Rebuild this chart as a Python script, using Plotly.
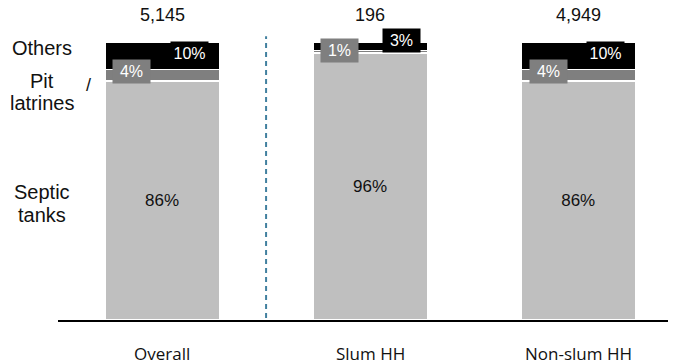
import plotly.graph_objects as go

# Sanitation type share (%) by household group
categories = ["Overall", "Slum HH", "Non-slum HH"]
septic_tanks = [86, 96, 86]
pit_latrines = [4, 1, 4]
others = [10, 3, 10]
totals = ["5,145", "196", "4,949"]

ARIAL = "Liberation Sans, Arial, sans-serif"
x_pos = list(range(len(categories)))
X_RANGE = [-0.5, 2.47]

fig = go.Figure()

fig.add_trace(go.Bar(
    x=x_pos, y=septic_tanks, name="Septic tanks", width=0.55,
    marker=dict(color="#BFBFBF", line=dict(color="white", width=1.5)),
    text=[f"{v}%" for v in septic_tanks], textposition="inside",
    insidetextanchor="middle",
    textfont=dict(family=ARIAL, size=17, color="#111111"),
))
fig.add_trace(go.Bar(
    x=x_pos, y=pit_latrines, name="Pit latrines", width=0.55,
    marker=dict(color="#7F7F7F", line=dict(color="white", width=1.5)),
))
fig.add_trace(go.Bar(
    x=x_pos, y=others, name="Others", width=0.55,
    marker=dict(color="#000000", line=dict(color="white", width=1.5)),
))

# Value labels for the thin segments
for i in x_pos:
    base = septic_tanks[i]
    top = base + pit_latrines[i] + others[i]
    if others[i] < 5:
        # small segments: labels lifted above the bar
        pit_y, oth_y, oth_dx = top - 3.2, top + 0.4, 0.15
    else:
        pit_y = base + pit_latrines[i] / 2 + 1.5
        oth_y = base + pit_latrines[i] + others[i] / 2 + 1
        oth_dx = 0.13
    fig.add_annotation(
        x=i - 0.145, y=pit_y, text=f"{pit_latrines[i]}%", showarrow=False,
        bgcolor="#7F7F7F", width=35, height=21, borderpad=1,
        font=dict(family=ARIAL, size=16, color="white"),
    )
    fig.add_annotation(
        x=i + oth_dx, y=oth_y, text=f"{others[i]}%", showarrow=False,
        bgcolor="#000000", width=35, height=21, borderpad=1,
        font=dict(family=ARIAL, size=16, color="white"),
    )
    fig.add_annotation(
        x=i, y=109.7, text=totals[i], showarrow=False,
        font=dict(family=ARIAL, size=18, color="#111111"),
    )
    # category name under the axis
    fig.add_annotation(
        x=i, yref="paper", y=-0.107, yanchor="middle", text=categories[i],
        showarrow=False,
        font=dict(family="Open Sans", size=17, color="#111111"),
    )

# Segment names on the left, one line per annotation for tight spacing
label_x = (-0.575 - X_RANGE[0]) / (X_RANGE[1] - X_RANGE[0])
left_labels = [("Others", 97.8), ("Pit", 86.0), ("latrines", 78.0),
               ("Septic", 46.2), ("tanks", 37.7)]
for label, y in left_labels:
    fig.add_annotation(
        xref="paper", x=label_x, xanchor="center", y=y, yanchor="middle",
        text=label, showarrow=False,
        font=dict(family=ARIAL, size=20, color="#111111"),
    )
fig.add_annotation(x=-0.355, y=84.5, text="/", showarrow=False,
                   font=dict(family=ARIAL, size=18, color="#111111"))

# Separator between overall and split groups
fig.add_shape(
    type="line", xref="x", yref="y", x0=0.5, x1=0.5, y0=-2.5, y1=102,
    line=dict(color="#41809F", width=2, dash="5px,4px"),
)

# page body adds an 8px margin, so the figure is sized 8px smaller
fig.update_layout(
    width=668, height=356,
    barmode="stack",
    showlegend=False,
    plot_bgcolor="white",
    paper_bgcolor="white",
    margin=dict(l=50, r=0, t=0, b=44),
    xaxis=dict(
        range=X_RANGE, tickvals=x_pos, showticklabels=False,
        showline=True, linecolor="black", linewidth=2,
        showgrid=False, zeroline=False, ticks="",
    ),
    yaxis=dict(range=[0, 112.2], visible=False, showgrid=False),
)

fig.write_html("out.html")
